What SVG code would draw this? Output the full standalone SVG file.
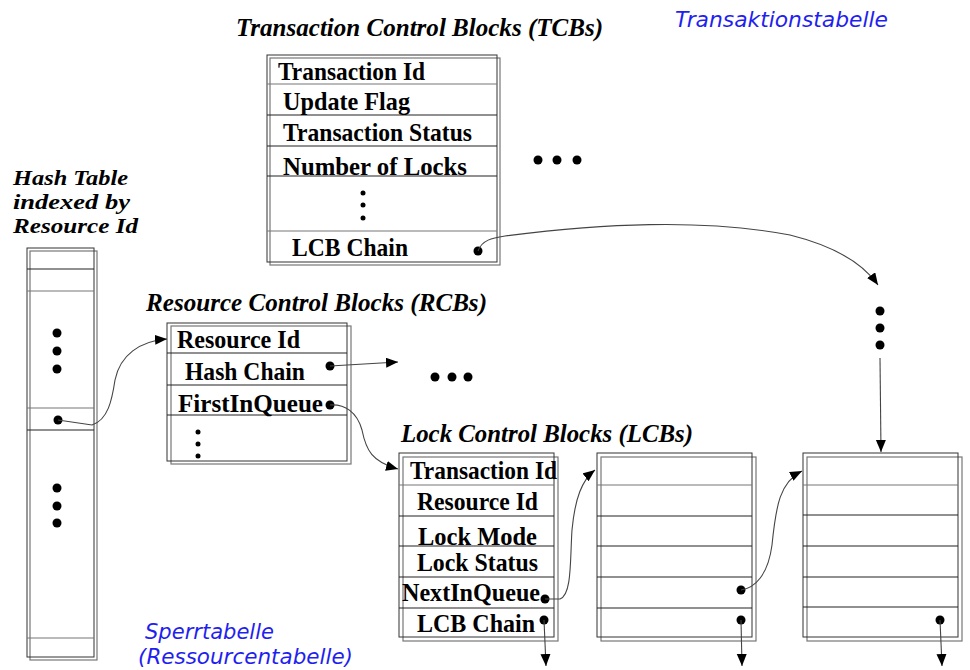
<svg xmlns="http://www.w3.org/2000/svg" width="970" height="670" viewBox="0 0 970 670">
<defs>
<style>
.bg{fill:#fff}
.b1{fill:#fff;stroke:#777;stroke-width:1.2}
.b2{fill:none;stroke:#333;stroke-width:1}
.row{stroke:#222;stroke-width:1.2}
.rowl{stroke:#777;stroke-width:1.2}
.t{font-family:"Liberation Serif","Times New Roman",serif;font-weight:bold;font-size:25px;fill:#000}
.ti{font-family:"Liberation Serif","Times New Roman",serif;font-weight:bold;font-style:italic;font-size:25px;fill:#000}
.th{font-family:"Liberation Serif","Times New Roman",serif;font-weight:bold;font-style:italic;font-size:22px;fill:#000}
.blue{font-family:"DejaVu Sans",Verdana,sans-serif;font-style:italic;font-size:21px;fill:#1f1fef}
.c{fill:none;stroke:#444;stroke-width:1.1}
.d{fill:#000}
</style>
<marker id="ah" markerUnits="userSpaceOnUse" markerWidth="14" markerHeight="12" refX="12" refY="5" orient="auto">
<path d="M0,0 L12,5 L0,10 z" fill="#000"/>
</marker>
</defs>
<rect class="bg" x="0" y="0" width="970" height="670"/>

<g id="labels">
<text class="ti" x="236" y="36" textLength="367" lengthAdjust="spacingAndGlyphs">Transaction Control Blocks (TCBs)</text>
<text class="blue" x="675" y="27" textLength="213" lengthAdjust="spacingAndGlyphs">Transaktionstabelle</text>
<text class="th" x="13" y="185" textLength="115" lengthAdjust="spacingAndGlyphs">Hash Table</text>
<text class="th" x="13" y="209" textLength="117" lengthAdjust="spacingAndGlyphs">indexed by</text>
<text class="th" x="13" y="233" textLength="125" lengthAdjust="spacingAndGlyphs">Resource Id</text>
<text class="ti" x="146" y="311" textLength="341" lengthAdjust="spacingAndGlyphs">Resource Control Blocks (RCBs)</text>
<text class="ti" x="401" y="442" textLength="292" lengthAdjust="spacingAndGlyphs">Lock Control Blocks (LCBs)</text>
<text class="blue" x="145" y="639" textLength="129" lengthAdjust="spacingAndGlyphs">Sperrtabelle</text>
<text class="blue" x="138" y="664" textLength="215" lengthAdjust="spacingAndGlyphs">(Ressourcentabelle)</text>
<circle class="d" cx="538" cy="160" r="4.5"/><circle class="d" cx="557" cy="160" r="4.5"/><circle class="d" cx="577" cy="160" r="4.5"/>
<circle class="d" cx="435" cy="377" r="4.5"/><circle class="d" cx="452" cy="377" r="4.5"/><circle class="d" cx="468" cy="377" r="4.5"/>
<circle class="d" cx="880" cy="311" r="4.5"/><circle class="d" cx="880" cy="328" r="4.5"/><circle class="d" cx="880" cy="345" r="4.5"/>
</g>

<g id="tcb">
<rect class="b1" x="270" y="58" width="230" height="207"/>
<rect class="b2" x="267" y="55" width="230" height="207"/>
<line class="rowl" x1="267" y1="84" x2="497" y2="84"/>
<line class="row" x1="267" y1="115" x2="497" y2="115"/>
<line class="row" x1="267" y1="146" x2="497" y2="146"/>
<line class="row" x1="267" y1="176" x2="497" y2="176"/>
<line class="rowl" x1="267" y1="231" x2="497" y2="231"/>
<text class="t" x="278" y="80" textLength="147" lengthAdjust="spacingAndGlyphs">Transaction Id</text>
<text class="t" x="283" y="110" textLength="127" lengthAdjust="spacingAndGlyphs">Update Flag</text>
<text class="t" x="283" y="141" textLength="189" lengthAdjust="spacingAndGlyphs">Transaction Status</text>
<text class="t" x="283" y="175" textLength="184" lengthAdjust="spacingAndGlyphs">Number of Locks</text>
<circle class="d" cx="363" cy="193" r="2.5"/><circle class="d" cx="363" cy="205" r="2.5"/><circle class="d" cx="363" cy="218" r="2.5"/>
<text class="t" x="292" y="256" textLength="116" lengthAdjust="spacingAndGlyphs">LCB Chain</text>
<circle class="d" cx="478" cy="251" r="4.5"/>
</g>

<g id="hash">
<rect class="b1" x="30" y="251" width="67" height="409"/>
<rect class="b2" x="27" y="248" width="67" height="409"/>
<line class="row" x1="27" y1="269" x2="94" y2="269"/>
<line class="rowl" x1="27" y1="291" x2="94" y2="291"/>
<line class="rowl" x1="27" y1="408" x2="94" y2="408"/>
<line class="row" x1="27" y1="430" x2="94" y2="430"/>
<line class="rowl" x1="27" y1="638" x2="94" y2="638"/>
<circle class="d" cx="57" cy="333" r="4.5"/><circle class="d" cx="57" cy="351" r="4.5"/><circle class="d" cx="57" cy="369" r="4.5"/>
<circle class="d" cx="58" cy="420" r="4.5"/>
<circle class="d" cx="57" cy="488" r="4.5"/><circle class="d" cx="57" cy="506" r="4.5"/><circle class="d" cx="57" cy="523" r="4.5"/>
</g>

<g id="rcb">
<rect class="b1" x="171" y="326" width="180" height="138"/>
<rect class="b2" x="167" y="323" width="180" height="138"/>
<line class="row" x1="167" y1="353" x2="347" y2="353"/>
<line class="row" x1="167" y1="385" x2="347" y2="385"/>
<line class="row" x1="167" y1="415" x2="347" y2="415"/>
<text class="t" x="177" y="348" textLength="123" lengthAdjust="spacingAndGlyphs">Resource Id</text>
<text class="t" x="185" y="380" textLength="120" lengthAdjust="spacingAndGlyphs">Hash Chain</text>
<text class="t" x="178" y="412" textLength="145" lengthAdjust="spacingAndGlyphs">FirstInQueue</text>
<circle class="d" cx="330" cy="366" r="4.5"/>
<circle class="d" cx="330" cy="405" r="4.5"/>
<circle class="d" cx="198" cy="432" r="2.5"/><circle class="d" cx="198" cy="444" r="2.5"/><circle class="d" cx="198" cy="456" r="2.5"/>
</g>

<g id="lcb1">
<rect class="b1" x="403" y="457" width="155" height="184"/>
<rect class="b2" x="399" y="453" width="155" height="184"/>
<line class="rowl" x1="399" y1="485" x2="554" y2="485"/>
<line class="row" x1="399" y1="516" x2="554" y2="516"/>
<line class="row" x1="399" y1="546" x2="554" y2="546"/>
<line class="row" x1="399" y1="577" x2="554" y2="577"/>
<line class="row" x1="399" y1="608" x2="554" y2="608"/>
<text class="t" x="410" y="479" textLength="147" lengthAdjust="spacingAndGlyphs">Transaction Id</text>
<text class="t" x="417" y="510" textLength="121" lengthAdjust="spacingAndGlyphs">Resource Id</text>
<text class="t" x="418" y="545" textLength="119" lengthAdjust="spacingAndGlyphs">Lock Mode</text>
<text class="t" x="417" y="571" textLength="121" lengthAdjust="spacingAndGlyphs">Lock Status</text>
<text class="t" x="402" y="601" textLength="138" lengthAdjust="spacingAndGlyphs">NextInQueue</text>
<text class="t" x="417" y="632" textLength="118" lengthAdjust="spacingAndGlyphs">LCB Chain</text>
<circle class="d" cx="545" cy="599" r="4.5"/>
<circle class="d" cx="544" cy="620" r="4.5"/>
</g>

<g id="lcb2">
<rect class="b1" x="601" y="457" width="155" height="184"/>
<rect class="b2" x="597" y="453" width="155" height="184"/>
<line class="rowl" x1="597" y1="485" x2="752" y2="485"/>
<line class="row" x1="597" y1="516" x2="752" y2="516"/>
<line class="row" x1="597" y1="546" x2="752" y2="546"/>
<line class="row" x1="597" y1="577" x2="752" y2="577"/>
<line class="row" x1="597" y1="608" x2="752" y2="608"/>
<circle class="d" cx="741" cy="590" r="4.5"/>
<circle class="d" cx="741" cy="620" r="4.5"/>
</g>

<g id="lcb3">
<rect class="b1" x="807" y="457" width="155" height="184"/>
<rect class="b2" x="803" y="453" width="155" height="184"/>
<line class="rowl" x1="803" y1="485" x2="958" y2="485"/>
<line class="row" x1="803" y1="515" x2="958" y2="515"/>
<line class="row" x1="803" y1="546" x2="958" y2="546"/>
<line class="row" x1="803" y1="577" x2="958" y2="577"/>
<line class="row" x1="803" y1="607" x2="958" y2="607"/>
<circle class="d" cx="940" cy="620" r="4.5"/>
</g>

<g id="connectors">
<path class="c" d="M478,251 C482,240 492,238 505,236 C600,224 700,218 790,235 C830,245 862,262 878,285" marker-end="url(#ah)"/>
<path class="c" d="M880,358 L881,452" marker-end="url(#ah)"/>
<path class="c" d="M58,420 L92,425 C108,420 112,400 115,380 C120,355 140,341 167,339" marker-end="url(#ah)"/>
<path class="c" d="M330,366 L398,362" marker-end="url(#ah)"/>
<path class="c" d="M330,405 C345,404 357,412 362,430 C366,450 372,462 398,469" marker-end="url(#ah)"/>
<path class="c" d="M545,599 L560,599 C572,595 570,560 572,530 C575,498 582,480 595,470" marker-end="url(#ah)"/>
<path class="c" d="M741,590 C755,588 768,575 772,545 C776,505 780,482 802,471" marker-end="url(#ah)"/>
<path class="c" d="M544,620 L546,666" marker-end="url(#ah)"/>
<path class="c" d="M741,620 L742,666" marker-end="url(#ah)"/>
<path class="c" d="M940,620 L942,666" marker-end="url(#ah)"/>
</g>
</svg>
